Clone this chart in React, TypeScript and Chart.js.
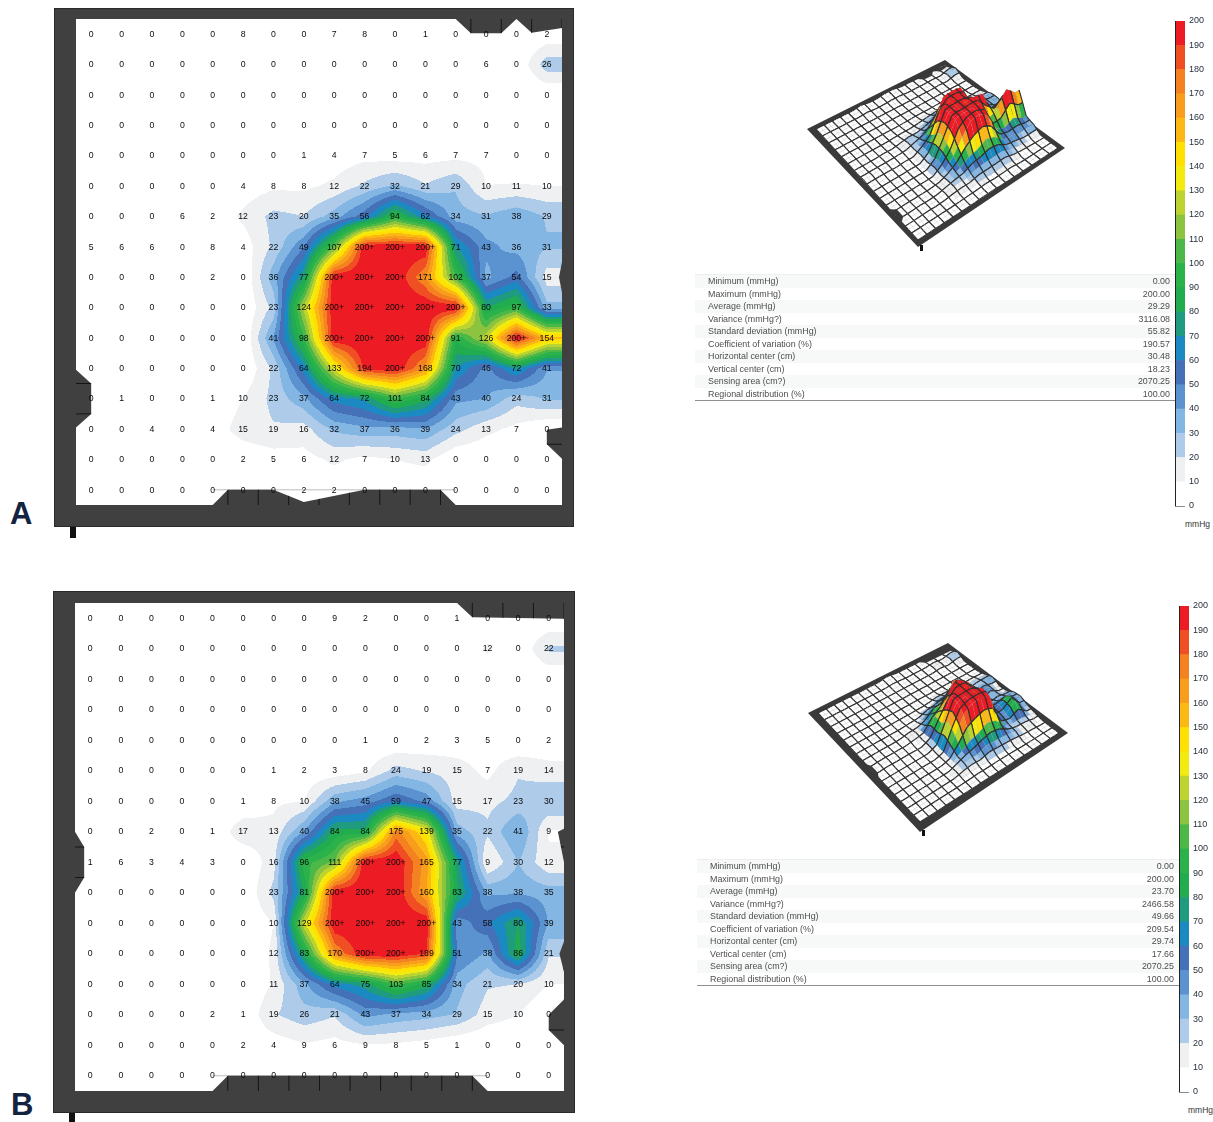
import React, { useEffect, useRef } from "react";
import { Chart, registerables } from "chart.js";
Chart.register(...registerables);

// ---------- data ----------
const GRID_A = [
  [0,0,0,0,0,8,0,0,7,8,0,1,0,0,0,2],
  [0,0,0,0,0,0,0,0,0,0,0,0,0,6,0,26],
  [0,0,0,0,0,0,0,0,0,0,0,0,0,0,0,0],
  [0,0,0,0,0,0,0,0,0,0,0,0,0,0,0,0],
  [0,0,0,0,0,0,0,1,4,7,5,6,7,7,0,0],
  [0,0,0,0,0,4,8,8,12,22,32,21,29,10,11,10],
  [0,0,0,6,2,12,23,20,35,56,94,62,34,31,38,29],
  [5,6,6,0,8,4,22,49,107,200,200,200,71,43,36,31],
  [0,0,0,0,2,0,36,77,200,200,200,171,102,37,54,15],
  [0,0,0,0,0,0,23,124,200,200,200,200,200,80,97,33],
  [0,0,0,0,0,0,41,98,200,200,200,200,91,126,200,154],
  [0,0,0,0,0,0,22,64,133,194,200,168,70,46,72,41],
  [0,1,0,0,1,10,23,37,64,72,101,84,43,40,24,31],
  [0,0,4,0,4,15,19,16,32,37,36,39,24,13,7,0],
  [0,0,0,0,0,2,5,6,12,7,10,13,0,0,0,0],
  [0,0,0,0,0,0,0,2,2,0,0,0,0,0,0,0],
];
const GRID_B = [
  [0,0,0,0,0,0,0,0,9,2,0,0,1,0,0,0],
  [0,0,0,0,0,0,0,0,0,0,0,0,0,12,0,22],
  [0,0,0,0,0,0,0,0,0,0,0,0,0,0,0,0],
  [0,0,0,0,0,0,0,0,0,0,0,0,0,0,0,0],
  [0,0,0,0,0,0,0,0,0,1,0,2,3,5,0,2],
  [0,0,0,0,0,0,1,2,3,8,24,19,15,7,19,14],
  [0,0,0,0,0,1,8,10,38,45,59,47,15,17,23,30],
  [0,0,2,0,1,17,13,40,84,84,175,139,35,22,41,9],
  [1,6,3,4,3,0,16,96,111,200,200,165,77,9,30,12],
  [0,0,0,0,0,0,23,81,200,200,200,160,83,38,38,35],
  [0,0,0,0,0,0,10,129,200,200,200,200,43,58,80,39],
  [0,0,0,0,0,0,12,83,170,200,200,189,51,38,86,21],
  [0,0,0,0,0,0,11,37,64,75,103,85,34,21,20,10],
  [0,0,0,0,2,1,19,26,21,43,37,34,29,15,10,0],
  [0,0,0,0,0,2,4,9,6,9,8,5,1,0,0,0],
  [0,0,0,0,0,0,0,0,0,0,0,0,0,0,0,0],
];
const BAND_STEP = 10;
const BAND_COLORS = [
  "#ffffff","#eef0f1","#aecbe9","#84b6e3","#5a93d0","#4471b8","#1b8ac2","#1f9b80","#21ad4f","#2bb24a",
  "#4cb848","#8cc440","#bdd32f","#f3ea10","#ffe000","#fdb913","#f99d1c","#f58220","#f04e23","#ed1c24",
];
const STAT_LABELS = [
  "Minimum (mmHg)","Maximum (mmHg)","Average (mmHg)","Variance (mmHg?)","Standard deviation (mmHg)",
  "Coefficient of variation (%)","Horizontal center (cm)","Vertical center (cm)","Sensing area (cm?)","Regional distribution (%)",
];
const STATS_A = ["0.00","200.00","29.29","3116.08","55.82","190.57","30.48","18.23","2070.25","100.00"];
const STATS_B = ["0.00","200.00","23.70","2466.58","49.66","209.54","29.74","17.66","2070.25","100.00"];

type Notch = { pts: number[][]; seam: "x" | "y" };
const NOTCHES_A: Notch[] = [
  { pts: [[12,-.5],[12.5,-.03],[13.5,-.03],[14,-.5],[14.5,-.05],[15.5,-.2],[15.5,-.5]], seam: "x" },
  { pts: [[-.5,11.05],[0,11.5],[0,12.5],[-.5,12.95]], seam: "y" },
  { pts: [[15.5,12.95],[15,13.02],[15,13.5],[15.5,13.98]], seam: "y" },
  { pts: [[15.5,7.5],[15.4,8],[15.5,8.5]], seam: "y" },
  { pts: [[4,15.5],[4.5,15],[6,15],[7,15.4],[9,15],[11.5,15],[12,15.5]], seam: "x" },
];
const NOTCHES_B: Notch[] = [
  { pts: [[12,-.5],[12.5,-.03],[15.5,.02],[15.5,-.5]], seam: "x" },
  { pts: [[-.5,7],[-.2,7.5],[-.2,8.5],[-.5,9]], seam: "y" },
  { pts: [[15.5,6.9],[15.3,7],[15.5,8]], seam: "y" },
  { pts: [[15.5,10.6],[15.35,11],[15.5,11.6]], seam: "y" },
  { pts: [[15.5,12.5],[15,13],[15,13.5],[15.5,14]], seam: "y" },
  { pts: [[4,15.5],[4.5,15],[12.5,15],[13,15.5]], seam: "x" },
];

// ---------- helpers ----------
const bandIndex = (v: number) => Math.max(0, Math.min(BAND_COLORS.length - 1, Math.floor(v / BAND_STEP)));
const clampTo = (a: number, lo: number, hi: number) => Math.max(lo, Math.min(hi, a));
function sample(grid: number[][], u: number, v: number) {
  const x = clampTo(u, 0, 15), y = clampTo(v, 0, 15);
  const i = Math.min(14, Math.floor(x)), j = Math.min(14, Math.floor(y));
  const fx = x - i, fy = y - j;
  return (grid[j][i] * (1 - fx) + grid[j][i + 1] * fx) * (1 - fy) + (grid[j + 1][i] * (1 - fx) + grid[j + 1][i + 1] * fx) * fy;
}
const rgb = BAND_COLORS.map((h) => [parseInt(h.slice(1, 3), 16), parseInt(h.slice(3, 5), 16), parseInt(h.slice(5, 7), 16)]);

function notchPath(ctx: any, n: Notch, px: (u: number) => number, py: (v: number) => number) {
  ctx.beginPath();
  n.pts.forEach((p, i) => (i ? ctx.lineTo(px(p[0]), py(p[1])) : ctx.moveTo(px(p[0]), py(p[1]))));
  ctx.closePath();
}

// ---------- heat map panel ----------
function HeatMap({ grid, notches, left, top, width, height, pad, baseline }: any) {
  const ref = useRef<HTMLCanvasElement>(null);
  useEffect(() => {
    const plugin = {
      id: "heat",
      beforeDatasetsDraw(chart: any) {
        const { ctx, chartArea: a, scales: { x, y } } = chart;
        ctx.save();
        ctx.fillStyle = "#404040";
        ctx.fillRect(0, 0, chart.width, a.bottom + pad.bottomFrame);
        ctx.strokeStyle = "#2a2a2a";
        ctx.lineWidth = 1;
        ctx.strokeRect(0.5, 0.5, chart.width - 1, a.bottom + pad.bottomFrame - 1);
        ctx.fillStyle = "#111111";
        ctx.fillRect(pad.tickX, a.bottom + pad.bottomFrame, 6, chart.height - a.bottom - pad.bottomFrame);
        const w = Math.round(a.right - a.left), h = Math.round(a.bottom - a.top);
        const off = document.createElement("canvas");
        off.width = w; off.height = h;
        const octx = off.getContext("2d")!;
        const img = octx.createImageData(w, h);
        for (let j = 0; j < h; j++) {
          const v = y.getValueForPixel(a.top + j + 0.5);
          for (let i = 0; i < w; i++) {
            const u = x.getValueForPixel(a.left + i + 0.5);
            const c = rgb[bandIndex(sample(grid, u, v))];
            const k = (j * w + i) * 4;
            img.data[k] = c[0]; img.data[k + 1] = c[1]; img.data[k + 2] = c[2]; img.data[k + 3] = 255;
          }
        }
        octx.putImageData(img, 0, 0);
        ctx.drawImage(off, a.left, a.top);
        const px = (u: number) => x.getPixelForValue(u), py = (v: number) => y.getPixelForValue(v);
        ctx.strokeStyle = "#bdbdbd";
        ctx.lineWidth = 1;
        ctx.beginPath();
        ctx.moveTo(px(baseline[0]), py(15));
        ctx.lineTo(px(baseline[1]), py(15));
        ctx.stroke();
        notches.forEach((n: Notch) => {
          ctx.save();
          notchPath(ctx, n, px, py);
          ctx.fillStyle = "#404040";
          ctx.fill();
          ctx.clip();
          ctx.strokeStyle = "#151515";
          ctx.lineWidth = 1;
          ctx.beginPath();
          for (let s = -0.5; s <= 15.5; s += 1) {
            if (n.seam === "x") { ctx.moveTo(px(s), py(-1)); ctx.lineTo(px(s), py(16)); }
            else { ctx.moveTo(px(-1), py(s)); ctx.lineTo(px(16), py(s)); }
          }
          ctx.stroke();
          ctx.restore();
        });
        ctx.restore();
      },
      afterDatasetsDraw(chart: any) {
        const { ctx, scales: { x, y } } = chart;
        ctx.save();
        ctx.font = "8.7px 'Liberation Sans'";
        ctx.textAlign = "center";
        ctx.textBaseline = "middle";
        ctx.fillStyle = "#0c0c0c";
        chart.data.datasets[0].data.forEach((p: any) => {
          const t = p.v >= 200 ? "200+" : String(p.v);
          ctx.fillText(t, x.getPixelForValue(p.x), y.getPixelForValue(p.y) + 0.3);
        });
        ctx.restore();
      },
    };
    const data: any[] = [];
    grid.forEach((row: number[], j: number) => row.forEach((v, i) => data.push({ x: i, y: j, v })));
    const chart = new Chart(ref.current!, {
      type: "scatter",
      data: { datasets: [{ data, pointRadius: 0 }] },
      options: {
        animation: false, responsive: false, devicePixelRatio: 1,
        layout: { padding: { left: pad.left, right: pad.right, top: pad.top, bottom: pad.bottom } },
        plugins: { legend: { display: false }, tooltip: { enabled: false } },
        scales: {
          x: { type: "linear", min: -0.5, max: 15.5, display: false },
          y: { type: "linear", min: -0.5, max: 15.5, reverse: true, display: false },
        },
      },
      plugins: [plugin],
    } as any);
    return () => chart.destroy();
  }, []);
  return <canvas ref={ref} width={width} height={height} style={{ position: "absolute", left, top, filter: "blur(0.45px)" }} />;
}

// ---------- 3-D surface ----------
function Surface({ grid, notches, outer, inner, heightScale, left, top, width, height }: any) {
  const ref = useRef<HTMLCanvasElement>(null);
  useEffect(() => {
    const bil = (c: number[][], s: number, t: number) => [0, 1].map((k) =>
      c[0][k] * (1 - s) * (1 - t) + c[1][k] * s * (1 - t) + c[2][k] * s * t + c[3][k] * (1 - s) * t);
    const project = (u: number, v: number, z: number) => {
      const p = bil(inner, (u + 0.5) / 16, (v + 0.5) / 16);
      return { x: p[0], y: p[1] - z * heightScale };
    };
    const smooth = (u: number, v: number) => {
      const r = 0.2;
      return (sample(grid, u, v) * 2 + sample(grid, u - r, v) + sample(grid, u + r, v) + sample(grid, u, v - r) + sample(grid, u, v + r)) / 6;
    };
    const plugin = {
      id: "surface",
      beforeDatasetsDraw(chart: any) {
        const { ctx, scales: { x, y } } = chart;
        const X = (p: any) => x.getPixelForValue(p.x), Y = (p: any) => y.getPixelForValue(p.y);
        ctx.save();
        ctx.lineJoin = "round";
        const poly = (pts: any[]) => {
          ctx.beginPath();
          pts.forEach((p, i) => (i ? ctx.lineTo(X(p), Y(p)) : ctx.moveTo(X(p), Y(p))));
          ctx.closePath();
        };
        poly(outer.map((c: number[]) => ({ x: c[0], y: c[1] })));
        ctx.fillStyle = "#3a3a3a";
        ctx.fill();
        poly(inner.map((c: number[]) => ({ x: c[0], y: c[1] })));
        ctx.fillStyle = "#ffffff";
        ctx.fill();
        const step = 0.5;
        const quads: any[] = [];
        for (let v = -0.5; v < 15.5; v += step) for (let u = -0.5; u < 15.5; u += step) {
          quads.push({ u, v, d: project(u + step / 2, v + step / 2, 0).y });
        }
        quads.sort((a, b) => a.d - b.d);
        const onLine = (s: number) => Math.abs((s + 0.5) % 1) < 1e-6;
        const seg = (a: any, b: any, black: boolean) => {
          ctx.strokeStyle = black ? "#303030" : "rgba(120,120,120,0.22)";
          ctx.lineWidth = black ? 1.1 : 0.6;
          ctx.beginPath();
          ctx.moveTo(X(a), Y(a));
          ctx.lineTo(X(b), Y(b));
          ctx.stroke();
        };
        quads.forEach(({ u, v }) => {
          const h = (a: number, b: number) => project(a, b, smooth(a, b));
          const p1 = h(u, v), p2 = h(u + step, v), p3 = h(u + step, v + step), p4 = h(u, v + step);
          const val = Math.max(sample(grid, u, v), sample(grid, u + step, v), sample(grid, u + step, v + step), sample(grid, u, v + step));
          poly([p1, p2, p3, p4]);
          ctx.fillStyle = BAND_COLORS[bandIndex(val)];
          ctx.fill();
          seg(p1, p2, onLine(v));
          seg(p4, p3, onLine(v + step));
          seg(p1, p4, onLine(u));
          seg(p2, p3, onLine(u + step));
        });
        // only the notches on the two far/left edges stay visible over the mesh
        notches.slice(0, 2).forEach((n: Notch) => {
          poly(n.pts.map((q) => project(q[0], q[1], 0)));
          ctx.fillStyle = "#3a3a3a";
          ctx.fill();
        });
        const bottom = outer[3];
        ctx.fillStyle = "#111111";
        ctx.fillRect(X({ x: bottom[0] + 2 }), Y({ y: bottom[1] - 2 }), 3, 6);
        ctx.restore();
      },
    };
    const vertices: any[] = [];
    grid.forEach((row: number[], j: number) => row.forEach((v, i) => vertices.push(project(i, j, v))));
    const chart = new Chart(ref.current!, {
      type: "scatter",
      data: { datasets: [{ data: vertices, pointRadius: 0 }] },
      options: {
        animation: false, responsive: false, devicePixelRatio: 1,
        layout: { padding: 0 },
        plugins: { legend: { display: false }, tooltip: { enabled: false } },
        scales: {
          x: { type: "linear", min: left, max: left + width, display: false },
          y: { type: "linear", min: top, max: top + height, reverse: true, display: false },
        },
      },
      plugins: [plugin],
    } as any);
    return () => chart.destroy();
  }, []);
  return <canvas ref={ref} width={width} height={height} style={{ position: "absolute", left, top, filter: "blur(0.4px)" }} />;
}

// ---------- colour bar ----------
function ColorBar({ left, top, height }: any) {
  const ref = useRef<HTMLCanvasElement>(null);
  useEffect(() => {
    const plugin = {
      id: "barEdge",
      afterDatasetsDraw(chart: any) {
        const { ctx, chartArea: a } = chart;
        ctx.save();
        ctx.strokeStyle = "#222222";
        ctx.lineWidth = 1;
        ctx.beginPath();
        ctx.moveTo(a.left + 0.5, a.top);
        ctx.lineTo(a.left + 0.5, a.bottom);
        ctx.stroke();
        ctx.strokeStyle = "#8a8a8a";
        ctx.beginPath();
        ctx.moveTo(a.left, a.bottom + 0.5);
        ctx.lineTo(a.right, a.bottom + 0.5);
        ctx.stroke();
        ctx.restore();
      },
    };
    const chart = new Chart(ref.current!, {
      type: "bar",
      data: {
        labels: ["mmHg"],
        datasets: BAND_COLORS.map((c) => ({ data: [BAND_STEP], backgroundColor: c, barPercentage: 1, categoryPercentage: 1 })),
      },
      options: {
        animation: false, responsive: false, devicePixelRatio: 1,
        layout: { padding: { left: 10, top: 10, bottom: 10, right: 0 } },
        plugins: { legend: { display: false }, tooltip: { enabled: false } },
        scales: {
          x: { stacked: true, display: false },
          y: {
            stacked: true, position: "right", min: 0, max: 200,
            grid: { display: false, drawTicks: false, tickLength: 0 }, border: { display: false },
            afterFit: (s: any) => { s.width = 30; },
            ticks: { stepSize: BAND_STEP, autoSkip: false, padding: 4, color: "#27303c", font: { size: 9, family: "'Liberation Sans'" } },
          },
        },
      },
      plugins: [plugin],
    } as any);
    return () => chart.destroy();
  }, []);
  return <canvas ref={ref} width={50} height={height} style={{ position: "absolute", left, top, filter: "blur(0.3px)" }} />;
}

// ---------- stats table ----------
function Stats({ values, left, top, width, rowH }: any) {
  return (
    <div style={{ position: "absolute", left, top, width, borderTop: "1px solid #eeeeee", borderBottom: "1px solid #8f8f8f", fontFamily: "'Liberation Sans'", fontSize: 8.9, color: "#4d4d4d", filter: "blur(0.25px)" }}>
      {STAT_LABELS.map((l, i) => (
        <div key={l} style={{ height: rowH, lineHeight: rowH + "px", display: "flex", justifyContent: "space-between", padding: "0 5px 0 13px", background: i % 2 ? "#ffffff" : "#f7f8f8" }}>
          <span>{l}</span><span>{values[i]}</span>
        </div>
      ))}
    </div>
  );
}

const letter = (t: string, left: number, top: number) => (
  <div style={{ position: "absolute", left, top, font: "bold 31px 'Liberation Sans'", lineHeight: "31px", color: "#14233f" }}>{t}</div>
);
const unit = (left: number, top: number) => (
  <div style={{ position: "absolute", left, top, font: "8.5px 'Liberation Sans'", lineHeight: "10px", color: "#333" }}>mmHg</div>
);

export default function App() {
  return (
    <div style={{ position: "absolute", left: 0, top: 0, width: 1213, height: 1122, overflow: "hidden", background: "#fff" }}>
      <HeatMap grid={GRID_A} notches={NOTCHES_A} baseline={[4, 12]} left={54} top={8} width={520} height={530}
        pad={{ left: 22, right: 12, top: 11, bottom: 33, bottomFrame: 22, tickX: 16 }} />
      <HeatMap grid={GRID_B} notches={NOTCHES_B} baseline={[4, 13]} left={53} top={591} width={522} height={531}
        pad={{ left: 22, right: 11, top: 12, bottom: 31, bottomFrame: 22, tickX: 16 }} />
      <Surface grid={GRID_A} notches={NOTCHES_A} heightScale={0.2} left={795} top={45} width={280} height={215}
        outer={[[807,129],[945,60],[1065,148],[918,247]]} inner={[[816,129],[945,65],[1058,148],[918,240]]} />
      <Surface grid={GRID_B} notches={NOTCHES_B} heightScale={0.2} left={795} top={630} width={280} height={215}
        outer={[[808,713],[948,643],[1068,733],[920,832]]} inner={[[818,713],[947,648],[1059,733],[920,822]]} />
      <Stats values={STATS_A} left={695} top={274} width={480} rowH={12.55} />
      <Stats values={STATS_B} left={697} top={859} width={482} rowH={12.55} />
      <ColorBar left={1165} top={11} height={505} />
      <ColorBar left={1169} top={596} height={506} />
      {unit(1185, 519)}
      {unit(1188, 1105)}
      {letter("A", 10, 498)}
      {letter("B", 11, 1089)}
    </div>
  );
}
